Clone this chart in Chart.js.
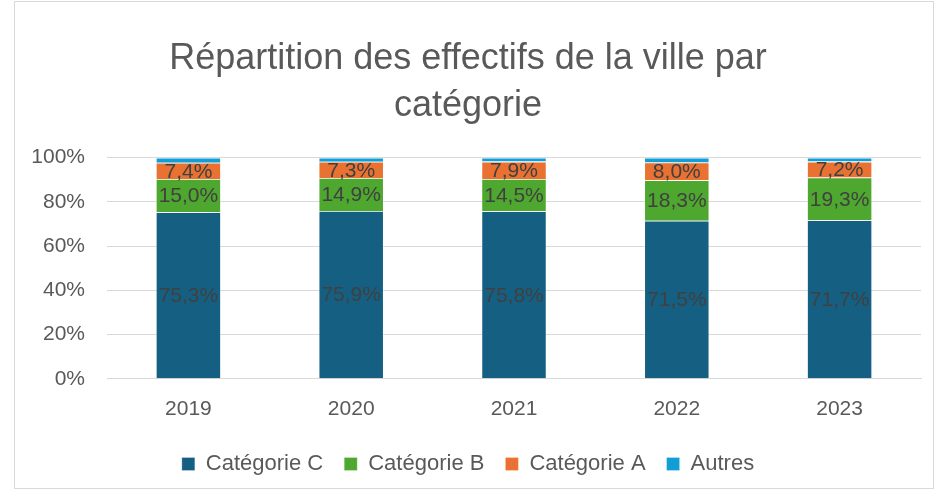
<!DOCTYPE html>
<html>
<head>
<meta charset="utf-8">
<script src="https://cdn.jsdelivr.net/npm/chart.js@4"></script>
<style>
  body { margin: 0; background: #fff; }
  .cadre { position: absolute; left: 14px; top: 1px; width: 920px; height: 488px; border: 1px solid #d9d9d9; box-sizing: border-box; }
  canvas { display: block; }
</style>
</head>
<body>
<div class="cadre"><canvas id="effectifs" width="918" height="486"></canvas></div>
<script>
const annees = ['2019', '2020', '2021', '2022', '2023'];
const categorieC = [75.3, 75.9, 75.8, 71.5, 71.7];
const categorieB = [15.0, 14.9, 14.5, 18.3, 19.3];
const categorieA = [7.4, 7.3, 7.9, 8.0, 7.2];
const autres = [2.3, 1.9, 1.8, 2.2, 1.8];

const police = '"Liberation Sans", Arial, sans-serif';

// etiquettes au centre de chaque segment (sauf Autres)
const etiquettes = {
  id: 'etiquettes',
  afterDatasetsDraw(chart) {
    const ctx = chart.ctx;
    ctx.save();
    ctx.font = '21px ' + police;
    ctx.fillStyle = '#404040';
    ctx.textAlign = 'center';
    ctx.textBaseline = 'middle';
    chart.data.datasets.forEach((ds, i) => {
      if (ds.label === 'Autres') return;
      chart.getDatasetMeta(i).data.forEach((bar, j) => {
        const y = (bar.y + bar.base) / 2;
        ctx.fillText(ds.data[j].toFixed(1).replace('.', ',') + '%', bar.x, y + 1);
      });
    });
    ctx.restore();
  }
};

new Chart(document.getElementById('effectifs'), {
  type: 'bar',
  data: {
    labels: annees,
    datasets: [
      { label: 'Catégorie C', data: categorieC, backgroundColor: '#156082' },
      { label: 'Catégorie B', data: categorieB, backgroundColor: '#4ea72e' },
      { label: 'Catégorie A', data: categorieA, backgroundColor: '#e97132' },
      { label: 'Autres', data: autres, backgroundColor: '#0f9ed5' }
    ]
  },
  options: {
    responsive: false,
    animation: false,
    devicePixelRatio: 1,
    datasets: { bar: { categoryPercentage: 1, barPercentage: 0.4, borderColor: 'rgba(255,255,255,0.35)', borderWidth: 0.8 } },
    layout: { padding: { left: 0, right: 12, top: 14, bottom: 3 } },
    plugins: {
      title: {
        display: true,
        text: ['Répartition des effectifs de la ville par', 'catégorie'],
        color: '#595959',
        font: { family: police, size: 36, weight: 'normal', lineHeight: 1.3 },
        padding: { top: 20, bottom: 28 }
      },
      legend: {
        position: 'bottom',
        labels: {
          color: '#595959',
          font: { family: police, size: 22 },
          boxWidth: 13, boxHeight: 13, padding: 21
        }
      },
      tooltip: { enabled: false }
    },
    scales: {
      x: {
        stacked: true,
        grid: { display: false },
        border: { color: '#d9d9d9' },
        ticks: { color: '#595959', font: { family: police, size: 21 }, padding: 10 }
      },
      y: {
        stacked: true,
        min: 0, max: 100,
        afterFit: s => { s.width = 92; },
        grid: { color: '#d9d9d9', drawTicks: false },
        border: { display: false },
        ticks: { stepSize: 20, color: '#595959', font: { family: police, size: 21 }, padding: 22,
          callback: v => v + '%' }
      }
    }
  },
  plugins: [etiquettes]
});
</script>
</body>
</html>
